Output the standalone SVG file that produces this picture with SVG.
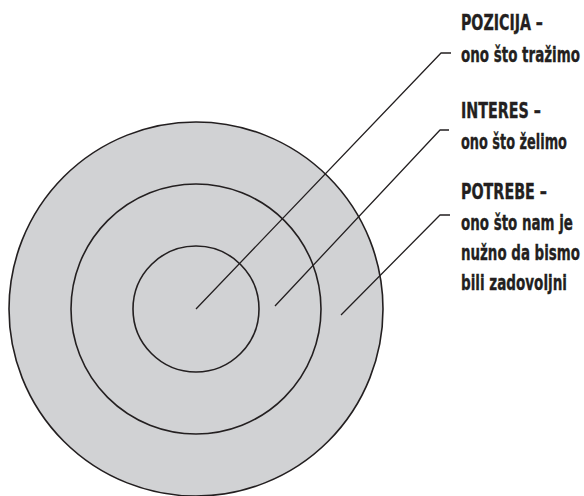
<svg xmlns="http://www.w3.org/2000/svg" width="584" height="496" viewBox="0 0 584 496">
<style>
.ring{fill:#d1d2d4;stroke:#231f20;stroke-width:1.6}
.inner{fill:none;stroke:#231f20;stroke-width:1.6}
.lead{fill:none;stroke:#231f20;stroke-width:1.3;stroke-linejoin:round}
.t{font-family:"DejaVu Sans Condensed","DejaVu Sans","Liberation Sans",sans-serif;font-weight:bold;font-size:22px;fill:#231f20;stroke:#231f20;stroke-width:0.35}
</style>
<rect width="584" height="496" fill="#ffffff"/>
<g id="potrebe-circle"><circle class="ring" cx="196" cy="309" r="187"/></g>
<g id="interes-circle"><circle class="inner" cx="196" cy="309" r="125"/></g>
<g id="pozicija-circle"><circle class="inner" cx="196" cy="309" r="63"/></g>
<g id="connectors">
<polyline class="lead" points="196,309 441,53 451,53"/>
<polyline class="lead" points="275,306 440,130 449,130"/>
<polyline class="lead" points="341,315 440,215 450,215"/>
</g>
<g id="label-pozicija" transform="scale(0.68,1)">
<text class="t" x="677.9" y="30" textLength="120.6" lengthAdjust="spacingAndGlyphs">POZICIJA –</text>
<text class="t" x="677.9" y="62" textLength="175" lengthAdjust="spacingAndGlyphs">ono što tražimo</text>
</g>
<g id="label-interes" transform="scale(0.68,1)">
<text class="t" x="677.9" y="118" textLength="117.6" lengthAdjust="spacingAndGlyphs">INTERES –</text>
<text class="t" x="677.9" y="149" textLength="155.9" lengthAdjust="spacingAndGlyphs">ono što želimo</text>
</g>
<g id="label-potrebe" transform="scale(0.68,1)">
<text class="t" x="677.9" y="199" textLength="126.5" lengthAdjust="spacingAndGlyphs">POTREBE –</text>
<text class="t" x="677.9" y="230" textLength="164.7" lengthAdjust="spacingAndGlyphs">ono što nam je</text>
<text class="t" x="677.9" y="260" textLength="175" lengthAdjust="spacingAndGlyphs">nužno da bismo</text>
<text class="t" x="677.9" y="290" textLength="155.9" lengthAdjust="spacingAndGlyphs">bili zadovoljni</text>
</g>
</svg>
